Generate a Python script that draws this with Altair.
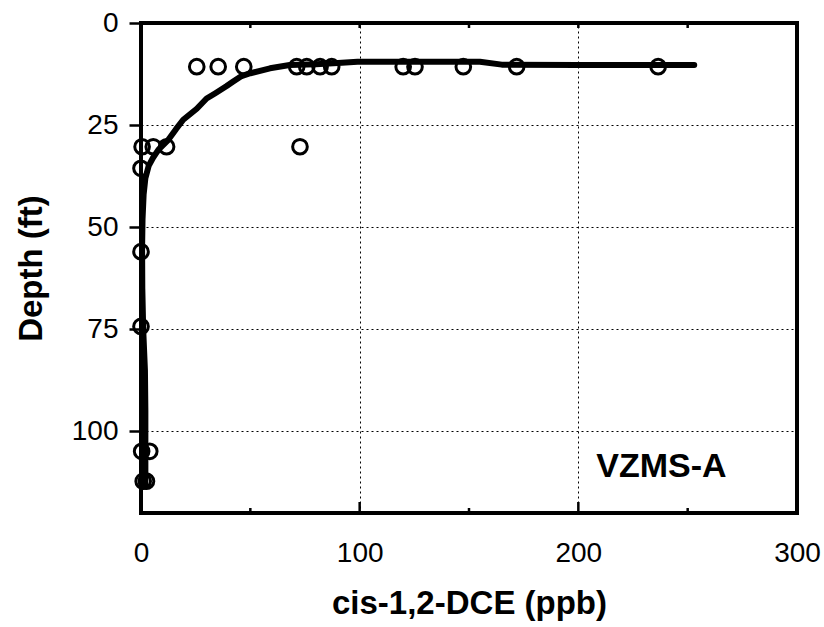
import altair as alt
import pandas as pd

# ---- measured data points (circles) ----
pt_conc = [25.5, 35.3, 47.0, 71.2, 75.8, 81.9, 87.2, 119.9, 125.3, 147.4, 171.8, 236.5,
           0.5, 5.6, 11.7, 72.7,
           0.0, 0.0, 0.0,
           0.3, 4.0, 1.0, 2.5]
pt_depth = [10.7, 10.7, 10.7, 10.7, 10.7, 10.7, 10.7, 10.7, 10.7, 10.7, 10.7, 10.7,
            30.3, 30.3, 30.3, 30.3,
            35.6, 56.0, 74.3,
            104.9, 104.9, 112.2, 112.2]

# ---- fitted curve ----
curve_conc = [2.0, 2.0, 2.0, 1.8, 1.0, 0.6, 0.5, 0.7, 1.2, 2.0, 3.5, 5.5, 8.0, 12.5,
              16.0, 19.3, 25.5, 30.0, 34.0, 39.0, 42.0, 46.0, 50.0, 59.0, 68.0, 80.0,
              90.0, 99.0, 130.0, 155.0, 165.0, 200.0, 253.0]
curve_depth = [113.0, 105.0, 95.0, 85.0, 75.0, 65.0, 55.0, 48.0, 42.0, 38.0, 35.0, 33.0,
               31.0, 28.6, 26.0, 23.7, 21.0, 18.5, 17.2, 15.5, 14.4, 13.0, 12.3, 11.1,
               10.3, 10.1, 9.8, 9.5, 9.5, 9.5, 10.2, 10.3, 10.3]

x_ticks = [0, 100, 200, 300]
y_ticks = [0, 25, 50, 75, 100]
x_major_inner = [100, 200]
x_minor_inner = [50, 150, 250]
x_top_inner = [50, 100, 150, 200, 250]

label_text = ["VZMS-A"]
label_conc = [238.0]
label_depth = [111.3]

FONT = "Liberation Sans"

pts = pd.DataFrame({"conc": pt_conc, "depth": pt_depth})
crv = pd.DataFrame({"conc": curve_conc, "depth": curve_depth, "i": list(range(len(curve_conc)))})
lab = pd.DataFrame({"conc": label_conc, "depth": label_depth, "t": label_text})
tmaj = pd.DataFrame({"conc": x_major_inner})
tmin = pd.DataFrame({"conc": x_minor_inner})
ttop = pd.DataFrame({"conc": x_top_inner})

xscale = alt.Scale(domain=[0, 300], nice=False, zero=False)
yscale = alt.Scale(domain=[0, 120], nice=False, zero=False, reverse=True)

xaxis = alt.Axis(values=x_ticks, format="d", labelFont=FONT, labelFontSize=28,
                 labelColor="black", labelFlush=False, ticks=False, labelPadding=26,
                 grid=True, gridDash=[2, 3], gridColor="black", gridWidth=1, gridOpacity=1,
                 domain=False, title="cis-1,2-DCE (ppb)", titleFont=FONT, titleFontSize=33,
                 titleFontWeight="bold", titleColor="black", titleY=100,
                 titleBaseline="alphabetic")
yaxis = alt.Axis(values=y_ticks, format="d", labelFont=FONT, labelFontSize=28,
                 labelColor="black", labelFlush=False, ticks=True, tickSize=12, tickWidth=2.5,
                 tickColor="black", labelPadding=11,
                 grid=True, gridDash=[2, 3], gridColor="black", gridWidth=1, gridOpacity=1,
                 domain=False, title="Depth (ft)", titleFont=FONT, titleFontSize=33,
                 titleFontWeight="bold", titleColor="black", titleX=-100, titleY=245,
                 titleAngle=270, titleAlign="center", titleBaseline="alphabetic")

base_x = alt.X("conc:Q", scale=xscale, axis=xaxis)
base_y = alt.Y("depth:Q", scale=yscale, axis=yaxis)

line = alt.Chart(crv).mark_line(color="black", strokeWidth=6, strokeJoin="round",
                                strokeCap="round").encode(
    x=base_x, y=base_y, order="i:Q")

circles = alt.Chart(pts).mark_point(shape="circle", filled=False, color="black",
                                    strokeWidth=3, size=215, opacity=1).encode(
    x=alt.X("conc:Q", scale=xscale), y=alt.Y("depth:Q", scale=yscale))

text = alt.Chart(lab).mark_text(font=FONT, fontSize=34, fontWeight="bold", color="black",
                                align="center", baseline="alphabetic").encode(
    x=alt.X("conc:Q", scale=xscale), y=alt.Y("depth:Q", scale=yscale), text="t:N")

tick_major = alt.Chart(tmaj).mark_rule(color="black", strokeWidth=2.5).encode(
    x=alt.X("conc:Q", scale=xscale), y=alt.value(490), y2=alt.value(479))
tick_minor = alt.Chart(tmin).mark_rule(color="black", strokeWidth=2.5).encode(
    x=alt.X("conc:Q", scale=xscale), y=alt.value(490), y2=alt.value(485))
tick_top = alt.Chart(ttop).mark_rule(color="black", strokeWidth=2.5).encode(
    x=alt.X("conc:Q", scale=xscale), y=alt.value(0), y2=alt.value(5))

chart = alt.layer(line, circles, text, tick_major, tick_minor, tick_top).properties(
    width=656, height=490,
    autosize=alt.AutoSizeParams(type="none"),
    padding={"left": 141, "top": 23, "right": 27, "bottom": 114},
    background="white",
).configure_view(stroke="black", strokeWidth=4)

chart.save("out.html", embed_options={"renderer": "svg", "actions": False})
